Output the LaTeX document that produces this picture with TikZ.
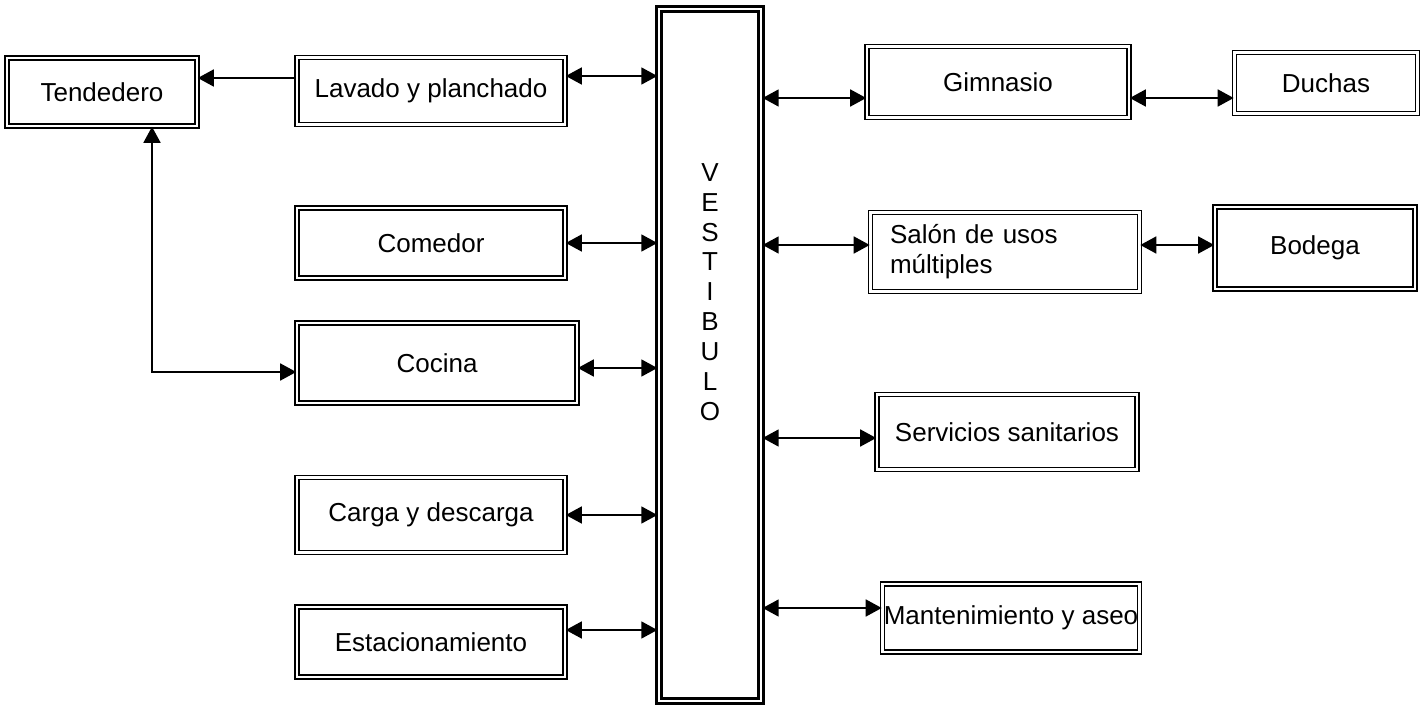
\documentclass[tikz,border=0pt]{standalone}
\usepackage{fontspec}
\setmainfont{Liberation Sans}
\usetikzlibrary{arrows.meta}
\newcommand{\roomfont}{\fontsize{14.8}{17}\selectfont}

\begin{document}
\begin{tikzpicture}[
  x=0.2mm, y=-0.2mm,
  room/.style={draw, double, double distance=1.5pt, line width=0.9pt, inner sep=0pt, align=center, font=\roomfont},
  hall/.style={room, line width=1.6pt, double distance=1.4pt},
  link/.style={line width=0.9pt},
  >={Triangle[length=3.2mm, width=3.4mm]}
]
\useasboundingbox (0,0) rectangle (1422,710);

% central hall
\node[hall, minimum width=2.05cm, minimum height=13.85cm] (vest) at (710,355) {};
\node[font=\roomfont, align=center] (vtxt) at (710,292) {V\\E\\S\\T\\I\\B\\U\\L\\O};

% left side
\node[room, minimum width=3.8cm, minimum height=1.36cm] (tend) at (102,92) {Tendedero};
\node[room, minimum width=5.36cm, minimum height=1.34cm] (lav) at (431,91) {Lavado y planchado};
\node[room, minimum width=5.36cm, minimum height=1.4cm] (com) at (431,243) {Comedor};
\node[room, minimum width=5.6cm, minimum height=1.6cm] (coc) at (437,363) {Cocina};
\node[room, minimum width=5.36cm, minimum height=1.5cm] (carga) at (431,515) {Carga y descarga};
\node[room, minimum width=5.36cm, minimum height=1.4cm] (est) at (431,642) {Estacionamiento};

% right side
\node[room, minimum width=5.24cm, minimum height=1.42cm] (gim) at (998,82) {Gimnasio};
\node[room, minimum width=3.66cm, minimum height=1.22cm] (duch) at (1326,83) {Duchas};
\node[room, minimum width=5.38cm, minimum height=1.58cm, text width=4.6cm, align=left] (salon) at (1005,252) {Salón de usos\\múltiples};
\node[room, minimum width=4cm, minimum height=1.64cm] (bod) at (1315,248) {Bodega};
\node[room, minimum width=5.2cm, minimum height=1.5cm] (serv) at (1007,432) {Servicios sanitarios};
\node[room, minimum width=5.14cm, minimum height=1.36cm] (mant) at (1011,618) {Mantenimiento y aseo};

% connections
\draw[link, ->] ([yshift=2.6mm]lav.west) -- ([yshift=2.6mm]lav.west -| tend.east);
\draw[link, <->] ([xshift=1cm]tend.south) |- ([yshift=-1.8mm]coc.west);
\draw[link, <->] ([yshift=3mm]lav.east) -- ([yshift=3mm]lav.east -| vest.west);
\draw[link, <->] (com.east) -- (com.east -| vest.west);
\draw[link, <->] ([yshift=-1mm]coc.east) -- ([yshift=-1mm]coc.east -| vest.west);
\draw[link, <->] (carga.east) -- (carga.east -| vest.west);
\draw[link, <->] ([yshift=2.4mm]est.east) -- ([yshift=2.4mm]est.east -| vest.west);

\draw[link, <->] ([yshift=-3.2mm]gim.west -| vest.east) -- ([yshift=-3.2mm]gim.west);
\draw[link, <->] ([yshift=-3.2mm]gim.east) -- ([yshift=-3.2mm]gim.east -| duch.west);
\draw[link, <->] ([yshift=1.4mm]salon.west -| vest.east) -- ([yshift=1.4mm]salon.west);
\draw[link, <->] ([yshift=1.4mm]salon.east) -- ([yshift=1.4mm]salon.east -| bod.west);
\draw[link, <->] ([yshift=-1.2mm]serv.west -| vest.east) -- ([yshift=-1.2mm]serv.west);
\draw[link, <->] ([yshift=2mm]mant.west -| vest.east) -- ([yshift=2mm]mant.west);
\end{tikzpicture}
\end{document}
